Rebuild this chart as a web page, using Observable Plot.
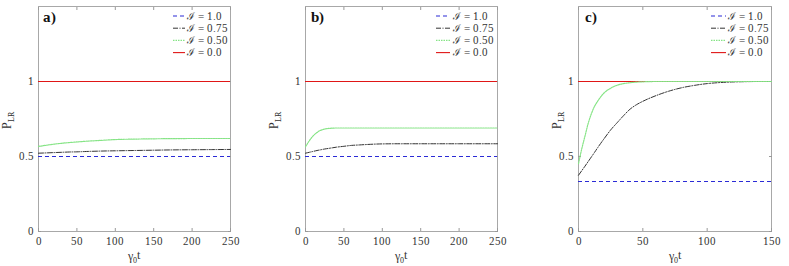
<!DOCTYPE html>
<html><head><meta charset="utf-8">
<script src="https://cdn.jsdelivr.net/npm/d3@7"></script>
<script src="https://cdn.jsdelivr.net/npm/@observablehq/plot@0.6"></script>
<style>
@font-face{font-family:"LSerif";src:local("Liberation Serif"),local("LiberationSerif"),local("LiberationSerif-Regular");font-weight:normal;}
@font-face{font-family:"LSerif";src:local("Liberation Serif Bold"),local("LiberationSerif-Bold");font-weight:bold;}
body{margin:0;background:#fff;}
#row{display:flex;width:789px;height:266px;}
#row > div{flex:none;}
#row svg text{font-family:"LSerif","Liberation Serif","DejaVu Serif",serif;}
</style></head><body><div id="row"></div>
<script>
// ---------- data ----------
const panelLabels = ["a)", "b)", "c)"];
const seriesNames = ["ℐ = 1.0", "ℐ = 0.75", "ℐ = 0.50", "ℐ = 0.0"];
const yTicks = [0, 0.5, 1];
const xTicksAB = [0, 50, 100, 150, 200, 250];
const xTicksC = [0, 50, 100, 150];

const tA = [0, 10, 20, 30, 40, 50, 60, 80, 100, 125, 150, 175, 200, 225, 250];
const greenA = [0.567, 0.575, 0.582, 0.588, 0.593, 0.597, 0.601, 0.607, 0.613, 0.616, 0.618, 0.619, 0.620, 0.620, 0.620];
const blackA = [0.522, 0.524, 0.526, 0.528, 0.530, 0.531, 0.533, 0.536, 0.538, 0.540, 0.542, 0.544, 0.545, 0.546, 0.547];

const tB = [0, 5, 10, 15, 20, 25, 30, 35, 40, 50, 60, 70, 80, 100, 125, 150, 200, 250];
const greenB = [0.565, 0.605, 0.638, 0.660, 0.675, 0.683, 0.687, 0.689, 0.690, 0.690, 0.690, 0.690, 0.690, 0.690, 0.690, 0.690, 0.690, 0.690];
const blackB = [0.522, 0.528, 0.534, 0.540, 0.545, 0.550, 0.554, 0.558, 0.562, 0.568, 0.574, 0.577, 0.580, 0.584, 0.585, 0.585, 0.585, 0.585];

const tC = [0, 2.5, 5, 7.5, 10, 12.5, 15, 20, 25, 30, 35, 40, 45, 50, 60, 70, 80, 90, 100, 110, 120, 130, 140, 150];
const greenC = [0.453, 0.55, 0.635, 0.72, 0.785, 0.835, 0.87, 0.925, 0.955, 0.975, 0.986, 0.992, 0.996, 0.998, 1.0, 1.0, 1.0, 1.0, 1.0, 1.0, 1.0, 1.0, 1.0, 1.0];
const blackC = [0.375, 0.405, 0.435, 0.466, 0.497, 0.528, 0.56, 0.62, 0.677, 0.725, 0.772, 0.815, 0.845, 0.868, 0.905, 0.935, 0.958, 0.974, 0.986, 0.993, 0.997, 0.999, 1.0, 1.0];

const level10 = [0.5, 0.5, 1/3];   // ℐ = 1.0
const level00 = [1, 1, 1];         // ℐ = 0.0
const xMax = [250, 250, 150];

// ---------- layout / styles ----------
const tData = [tA, tB, tC];
const greenData = [greenA, greenB, greenC];
const blackData = [blackA, blackB, blackC];
const xTicksAll = [xTicksAB, xTicksAB, xTicksC];
const layout = [
  {width: 263, ml: 38, mr: 33, lineStart: 173, lineEnd: 185, textStart: 187, ylabX: 11, labX: 43},
  {width: 263, ml: 42, mr: 29, lineStart: 173, lineEnd: 187, textStart: 190, ylabX: 15, labX: 48},
  {width: 263, ml: 52, mr: 18, lineStart: 185, lineEnd: 200, textStart: 202, ylabX: 35, labX: 59}
];
const styles = [
  {stroke: "#2b2bd6", dash: "4,3", width: 1.1},
  {stroke: "#333333", dash: "5,1.5,1,1.5", width: 1},
  {stroke: "#86e486", dash: "1.5,1", width: 1.2},
  {stroke: "#e01616", dash: null, width: 1.1}
];
const FONT = "LSerif, \"Liberation Serif\", \"DejaVu Serif\", serif";

function makePanel(i) {
  const L = layout[i];
  const rowsG = tData[i].map((t, j) => ({t, v: greenData[i][j]}));
  const rowsB = tData[i].map((t, j) => ({t, v: blackData[i][j]}));
  const xt = xTicksAll[i];
  const plot = Plot.plot({
    width: L.width, height: 266,
    marginLeft: L.ml, marginRight: L.mr, marginTop: 6, marginBottom: 35,
    x: {domain: [0, xMax[i]]},
    y: {domain: [0, 1.5]},
    style: {fontFamily: FONT, fontSize: "11px", color: "#333", background: "#fff"},
    marks: [
      Plot.frame({stroke: "#a8a8a8"}),
      Plot.axisX({ticks: xt, tickSize: 0, tickPadding: 6, label: null, fontSize: 11}),
      Plot.axisX({ticks: xt, tickSize: -3, fill: "none", label: null, stroke: "#999"}),
      Plot.axisX({anchor: "top", ticks: xt, tickSize: -3, fill: "none", label: null, stroke: "#999"}),
      Plot.axisY({ticks: yTicks, tickSize: 0, tickPadding: 5, label: null, fontSize: 11, tickFormat: d => String(d)}),
      Plot.axisY({ticks: yTicks, tickSize: -3, fill: "none", label: null, stroke: "#999"}),
      Plot.axisY({anchor: "right", ticks: yTicks, tickSize: -3, fill: "none", label: null, stroke: "#999"}),
      Plot.ruleY([level00[i]], {stroke: styles[3].stroke, strokeWidth: styles[3].width}),
      Plot.ruleY([level10[i]], {stroke: styles[0].stroke, strokeWidth: styles[0].width, strokeDasharray: styles[0].dash}),
      Plot.line(rowsB, {x: "t", y: "v", curve: "monotone-x", stroke: styles[1].stroke, strokeWidth: styles[1].width, strokeDasharray: styles[1].dash}),
      Plot.line(rowsG, {x: "t", y: "v", curve: "monotone-x", stroke: styles[2].stroke, strokeWidth: styles[2].width, strokeDasharray: styles[2].dash})
    ]
  });
  const svg = d3.select(plot);
  svg.append("text").attr("x", L.labX).attr("y", 22).attr("text-anchor", "start")
    .style("font-size", "15px").style("font-weight", "bold").attr("fill", "#111")
    .text(panelLabels[i]);
  const yl = svg.append("text").attr("transform", `translate(${L.ylabX},120) rotate(-90)`)
    .attr("text-anchor", "middle").style("font-size", "12px").attr("fill", "#333");
  yl.append("tspan").text("P");
  yl.append("tspan").style("font-size", "8px").attr("dy", 3).text("LR");
  const cx = L.ml + (L.width - L.ml - L.mr) / 2;
  const xl = svg.append("text").attr("x", cx).attr("y", 260)
    .attr("text-anchor", "middle").style("font-size", "12px").attr("fill", "#333");
  xl.append("tspan").text("γ");
  xl.append("tspan").style("font-size", "8px").attr("dy", 3).text("0");
  xl.append("tspan").attr("dy", -4).text("t");
  const lg = svg.append("g");
  seriesNames.forEach((name, r) => {
    const y = 16 + r * 12.2;
    const s = styles[r];
    lg.append("line").attr("x1", L.lineStart).attr("x2", L.lineEnd).attr("y1", y).attr("y2", y)
      .attr("stroke", s.stroke).attr("stroke-width", s.width).attr("stroke-dasharray", s.dash);
    lg.append("text").attr("x", L.textStart).attr("y", y + 3.5).attr("text-anchor", "start")
      .style("font-size", "10.5px").attr("fill", "#333").text(name);
  });
  const div = document.createElement("div");
  div.appendChild(plot);
  document.getElementById("row").appendChild(div);
}
[0, 1, 2].forEach(makePanel);
</script>
</body></html>
